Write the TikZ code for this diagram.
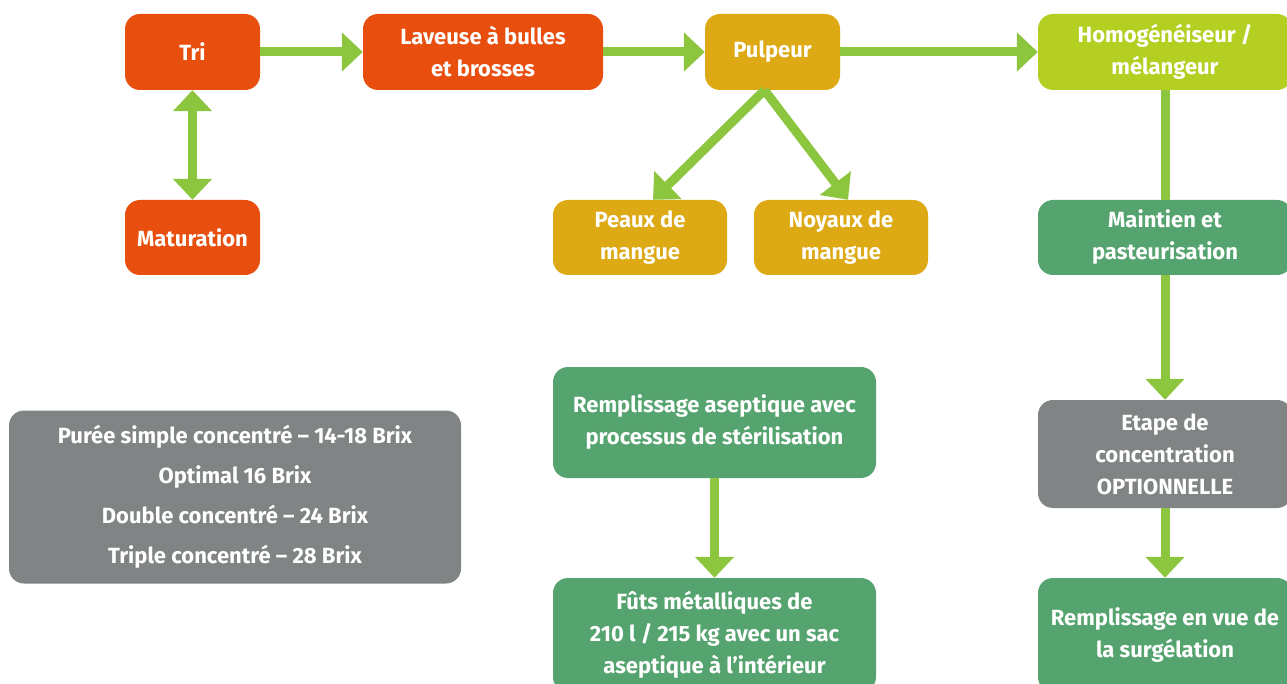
\documentclass[tikz,border=0pt]{standalone}
\usepackage{fontspec}
\setmainfont{Fira Sans}
\usetikzlibrary{arrows.meta}
\definecolor{mgOrange}{HTML}{E84E0E}
\definecolor{mgGold}{HTML}{DDA915}
\definecolor{mgLime}{HTML}{B4CF22}
\definecolor{mgGreen}{HTML}{55A46F}
\definecolor{mgGrey}{HTML}{808485}
\definecolor{mgArrow}{HTML}{8CC63F}
\tikzset{
  box/.style={rounded corners=15, text=white, align=center, inner sep=0pt,
    font=\bfseries\fontsize{22}{32}\selectfont},
  flow/.style={draw=mgArrow, line width=9, -{Triangle[width=38,length=21]}},
  flowboth/.style={flow, {Triangle[width=38,length=21]}-{Triangle[width=38,length=21]}},
}
\begin{document}
\begin{tikzpicture}[x=1pt,y=-1pt]
  \useasboundingbox (0,0) rectangle (1287,684);
  \clip (0,0) rectangle (1287,684);
  % top row
  \node[box, fill=mgOrange, minimum width=135, minimum height=76] (tri) at (192.5,52) {Tri};
  \node[box, fill=mgOrange, minimum width=240, minimum height=76] (lav) at (483,52) {Laveuse à bulles\\et brosses};
  \node[box, fill=mgGold, minimum width=135, minimum height=76] (pul) at (772.5,52) {Pulpeur};
  \node[box, fill=mgLime, minimum width=254, minimum height=76] (hom) at (1165,52) {Homogénéiseur /\\mélangeur};
  % second row
  \node[box, fill=mgOrange, minimum width=135, minimum height=75] (mat) at (192.5,237.5) {Maturation};
  \node[box, fill=mgGold, minimum width=174, minimum height=75] (pea) at (640,237.5) {Peaux de\\mangue};
  \node[box, fill=mgGold, minimum width=174, minimum height=75] (noy) at (841,237.5) {Noyaux de\\mangue};
  \node[box, fill=mgGreen, minimum width=254, minimum height=75] (mai) at (1165,237.5) {Maintien et\\pasteurisation};
  % lower part
  \node[box, fill=mgGrey, minimum width=452, minimum height=173,
    font=\bfseries\fontsize{22}{40}\selectfont] (lst) at (235,497)
    {Purée simple concentré – 14-18 Brix\\Optimal 16 Brix\\Double concentré – 24 Brix\\Triple concentré – 28 Brix};
  \node[box, fill=mgGreen, minimum width=323, minimum height=111] (ase) at (714.5,422.5) {Remplissage aseptique avec\\processus de stérilisation};
  \node[box, fill=mgGreen, minimum width=323, minimum height=114] (fut) at (714.5,635) {Fûts métalliques de\\210 l / 215 kg avec un sac\\aseptique à l’intérieur};
  \node[box, fill=mgGrey, minimum width=254, minimum height=108] (eta) at (1165,454) {Etape de\\concentration\\OPTIONNELLE};
  \node[box, fill=mgGreen, minimum width=254, minimum height=114] (sur) at (1165,635) {Remplissage en vue de\\la surgélation};
  % connectors
  \draw[flow] (tri) -- (lav);
  \draw[flow] (lav) -- (pul);
  \draw[flow] (pul) -- (hom);
  \draw[flowboth] (tri) -- (mat);
  \draw[flow] ([xshift=-8]pul.south) -- ([xshift=13]pea.north);
  \draw[flow] ([xshift=-8]pul.south) -- ([xshift=7]noy.north);
  \draw[draw=mgArrow, line width=9] (hom) -- (mai);
  \draw[flow] (mai) -- (eta);
  \draw[flow] (eta) -- (sur);
  \draw[flow] (ase) -- (fut);
\end{tikzpicture}
\end{document}
